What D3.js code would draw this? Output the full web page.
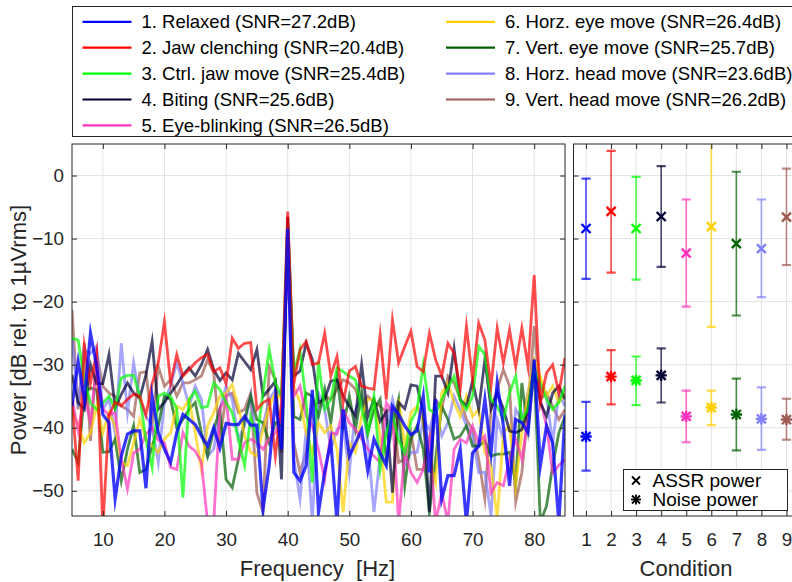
<!DOCTYPE html>
<html><head><meta charset="utf-8">
<script src="https://cdn.jsdelivr.net/npm/d3@7"></script>
<style>
html,body{margin:0;padding:0;background:#fff;}
svg{display:block;font-family:"Liberation Sans",Arial,Helvetica,sans-serif;}
</style></head>
<body>
<svg id="chart" width="792" height="582"></svg>
<script>
// ---------- DATA ----------
const freqs = [5,6,7,8,9,10,11,12,13,14,15,16,17,18,19,20,21,22,23,24,25,26,27,28,29,30,31,32,33,34,35,36,37,38,39,40,41,42,43,44,45,46,47,48,49,50,51,52,53,54,55,56,57,58,59,60,61,62,63,64,65,66,67,68,69,70,71,72,73,74,75,76,77,78,79,80,81,82,83,84,85];

const conditionNames = ["1. Relaxed (SNR=27.2dB)","2. Jaw clenching (SNR=20.4dB)","3. Ctrl. jaw move (SNR=25.4dB)","4. Biting (SNR=25.6dB)","5. Eye-blinking (SNR=26.5dB)","6. Horz. eye move (SNR=26.4dB)","7. Vert. eye move (SNR=25.7dB)","8. Horz. head move (SNR=23.6dB)","9. Vert. head move (SNR=26.2dB)"];
const conditionColors = ["#0000ff","#ff0000","#00ff00","#000033","#ff33bb","#ffd000","#006000","#8080ff","#9e5a50"];

const spec1 = [-36.6,-29.5,-35.5,-25,-30.3,-37.9,-39.2,-51.3,-44.5,-41,-40.5,-40.5,-49.6,-35,-40.8,-43.4,-45.5,-40.8,-37.9,-38.7,-39.5,-41.3,-42.9,-40,-43.2,-39.3,-39.5,-39.5,-38.2,-39.6,-39.6,-52.9,-46,-35.5,-43.4,-8.4,-47.1,-48.4,-46,-34,-53.4,-47,-42.1,-55,-37.1,-44.5,-42.4,-40.3,-46.8,-41.8,-44,-46,-36.6,-37.9,-39.7,-41.1,-40.5,-35,-47.1,-35.5,-51.3,-47.6,-47.6,-43.4,-55,-44,-42.9,-35.5,-44,-32.9,-39.7,-49.2,-38.7,-39.2,-40.8,-29.2,-46,-39.7,-42.4,-55,-37.9];
const spec2 = [-35.8,-48.4,-27,-33,-28,-56,-38,-36,-36.5,-35.5,-34.7,-35,-38,-33,-29.7,-23.2,-32.9,-28.4,-31.8,-30.8,-29.7,-28.9,-28.4,-31.1,-30.5,-33,-25.8,-27.4,-26.6,-26.5,-37.1,-36,-35.5,-44.5,-36,-5.7,-33,-27.6,-26.3,-30,-29.7,-25,-31.8,-28.7,-36,-31,-30.3,-33.4,-33.7,-33.9,-25.3,-35.5,-22.9,-29.7,-27.1,-24.7,-30.3,-31.1,-25,-29.2,-31.8,-26.6,-28.2,-33.9,-23.9,-32.4,-23.4,-26.1,-33.4,-24.2,-29.7,-24.5,-30.3,-24.2,-30.3,-15.8,-36,-31.3,-30,-34.5,-28.9];
const spec3 = [-25.8,-26.1,-32.4,-36.1,-37.1,-36.1,-35,-37,-32.1,-31.7,-31.7,-35,-42,-46.3,-35,-34.5,-35,-37,-51.1,-35.5,-34.2,-36.8,-36.6,-32.9,-34,-36,-37.6,-41.8,-46,-38.2,-41.8,-34.5,-27.6,-32.9,-35,-8.4,-31.3,-27.6,-36,-48.7,-29.5,-37.1,-35.5,-30.5,-31.1,-31.8,-32.4,-37.1,-40.8,-35,-46.6,-40.8,-38,-42,-44,-39,-37.1,-30,-37.1,-37.8,-35.5,-33.7,-31.8,-35.5,-37.1,-35,-27.1,-28.4,-35.5,-36.6,-38.7,-34.5,-31.8,-38.7,-37.1,-30.8,-32.9,-35.5,-37.1,-36,-33.4];
const spec4 = [-31.6,-36,-37.1,-30,-33,-33,-28.4,-36.8,-34.7,-32.9,-34.5,-35.3,-31.6,-26.3,-37.1,-36,-34.5,-33.2,-31.6,-30.5,-31.8,-30,-27.6,-30.8,-32.5,-31.3,-32.4,-28.2,-29.5,-30.8,-27.6,-35,-33.9,-32.6,-48.2,-6.5,-31.8,-31,-26.6,-29.2,-36,-35.5,-32.6,-32.4,-35,-36.6,-38.2,-30,-38.2,-35.5,-39,-37.5,-50.3,-36,-37,-33.2,-33.4,-37.6,-53.4,-31.8,-31.8,-34.5,-27.4,-35.5,-36.6,-32.6,-37.1,-29.2,-37,-34.5,-37,-40.5,-40.8,-40.3,-37,-30.3,-36,-38.2,-34.5,-33.4,-35.5];
const spec5 = [-35.3,-40.5,-35,-39,-30,-37,-38,-37.6,-45,-49.7,-44,-43.4,-41,-40,-42,-42.4,-46.3,-46.6,-40.8,-42.9,-43.7,-45.5,-55,-55,-37.1,-35,-45,-45,-42.4,-41.8,-42.4,-43.4,-41.8,-40.8,-38.2,-12.3,-35,-33.4,-38.2,-39.7,-43.5,-48.2,-40.8,-41,-37.1,-39.2,-40.3,-41.8,-43.4,-44.5,-45.5,-36,-37.6,-55,-43.9,-47.1,-48.7,-46.6,-41.8,-55,-50.3,-55,-43.4,-41.8,-42.4,-39.7,-42.4,-41.3,-50.3,-48.7,-49.2,-45,-41.8,-45,-38.7,-30.3,-35.5,-39.7,-47.1,-46,-45];
const spec6 = [-37.1,-39.7,-42.4,-40.8,-36.6,-40.8,-37.6,-39.7,-45.5,-46,-42.4,-38.7,-41.8,-42.9,-43.9,-41.8,-40.8,-36.6,-37.1,-35.5,-40.8,-46.6,-39.7,-37.6,-35,-34.5,-33.2,-36.6,-41.3,-43.9,-44.5,-40.3,-36.6,-34.5,-35.5,-8.1,-33.4,-36,-40.8,-43.9,-39.2,-40.8,-39.7,-43.4,-53.4,-42.4,-43.9,-38.2,-35.5,-35.5,-41.3,-51.8,-51.8,-35.5,-42.9,-37.6,-36.6,-39.2,-45,-48.7,-34.5,-32.9,-36,-38.2,-35,-38.2,-37.1,-43.9,-46,-54.5,-40.8,-39.7,-49.2,-40.8,-34.5,-29.2,-31.8,-35,-33.4,-36,-34.5];
const spec7 = [-43.4,-45.5,-34.5,-33.7,-34,-43.9,-43.8,-41.8,-48.4,-43.4,-39.7,-47.1,-46.6,-42.9,-39.7,-35,-35.5,-40,-38.7,-37.1,-36,-40.8,-44.5,-40.3,-37.1,-48.2,-49.5,-45,-38.7,-35,-38.7,-39.2,-42.4,-39.2,-39.7,-10.8,-38.2,-38.7,-34.5,-35,-38.2,-33.9,-39.2,-31.8,-39.7,-35,-40.3,-34.2,-40.8,-37.1,-35.5,-45,-39.7,-35.5,-49.2,-41.8,-39.7,-43.4,-53.4,-45,-36.6,-38.7,-41.8,-41.3,-39.7,-42.9,-42.9,-42.1,-44.5,-44.2,-44.2,-43.9,-48.7,-32.9,-40.3,-30.3,-55,-52.4,-46,-40.8,-38.2];
const spec8 = [-25.8,-36.6,-27.6,-28.2,-27.1,-37.1,-35.5,-40.8,-26.6,-37.6,-29.7,-35.5,-38.2,-39.7,-45.5,-35.8,-33.4,-29.7,-32.9,-36.6,-33.4,-35.5,-44.5,-43.4,-37.1,-33.4,-35.5,-41.8,-39.7,-35,-42.4,-39.7,-35.5,-34,-35,-11.6,-45,-51.3,-40.3,-55,-34.5,-37.1,-43.4,-40.3,-39.7,-47.1,-37.1,-35,-42.4,-53.4,-44.5,-39.7,-35.5,-39.7,-46,-43.9,-43.9,-38.7,-40.3,-37.1,-41.3,-39.2,-35,-37.1,-39.7,-41.3,-47.1,-47.1,-54,-38.7,-41.8,-47.1,-37.1,-38.7,-34.5,-29.7,-33.4,-35,-42.4,-34.5,-36.6];
const spec9 = [-21.3,-37.1,-26.6,-42.1,-28.2,-33.4,-34.5,-35,-36.6,-37.1,-38.2,-31.3,-31.1,-39.7,-30.3,-33.4,-32.4,-35,-32.9,-32.9,-32.4,-31.8,-29.2,-31.3,-41.8,-35,-34.5,-37.6,-37.1,-34.5,-50.3,-53.4,-30.3,-32.4,-43.9,-6.6,-42.4,-47.1,-43.9,-36,-36.6,-35,-35.5,-33.9,-32.4,-32.9,-33.9,-36.6,-35,-36,-36.6,-37.6,-36.6,-45.5,-45,-40.8,-46.6,-46.6,-41.8,-35.5,-37.1,-31.8,-32.9,-35.5,-38.7,-40.3,-45,-51.3,-37.1,-33.9,-30.8,-33.4,-51.8,-47.1,-37.1,-23.9,-35.5,-34.5,-36.6,-38.7,-37.1];

const conditions = [1,2,3,4,5,6,7,8,9];
const assrMean = [-8.4,-5.7,-8.4,-6.5,-12.3,-8.1,-10.8,-11.6,-6.6];
const assrLow  = [-16.4,-15.4,-16.5,-14.5,-20.8,-24.0,-22.2,-19.3,-14.2];
const assrHigh = [-0.5,3.9,-0.2,1.5,-3.8,7.8,0.6,-3.8,1.1];
const noiseMean = [-41.4,-31.9,-32.5,-31.7,-38.2,-36.8,-37.9,-38.6,-38.7];
const noiseLow  = [-46.8,-36.3,-36.4,-36.0,-42.3,-39.6,-43.6,-43.5,-41.9];
const noiseHigh = [-35.9,-27.7,-28.7,-27.4,-34.1,-34.1,-32.2,-33.6,-35.4];

const freqTicks = [10,20,30,40,50,60,70,80];
const powerTicks = [0,-10,-20,-30,-40,-50];

// ---------- LAYOUT ----------
const svg = d3.select("#chart");
const FONT = 18.5, TICKFONT = 18.8, AXC = "#262626", GRID = "#e3e3e3";
const yTop = 144, yBot = 516;
const L = {x0:72, x1:565};
const R = {x0:573.5, x1:799};

const x = d3.scaleLinear().domain([5,85]).range([L.x0, L.x1]);
const y = d3.scaleLinear().domain([-54,5]).range([yBot, yTop]);
const xc = d3.scaleLinear().domain([0.5,9.5]).range([R.x0, R.x1]);

const defs = svg.append("defs");
defs.append("clipPath").attr("id","clipL").append("rect")
  .attr("x",L.x0).attr("y",yTop).attr("width",L.x1-L.x0).attr("height",yBot-yTop);
defs.append("clipPath").attr("id","clipR").append("rect")
  .attr("x",R.x0).attr("y",yTop).attr("width",R.x1-R.x0).attr("height",yBot-yTop);

function styleAxis(g, labels){
  g.select(".domain").remove();
  g.selectAll(".tick line").attr("stroke",AXC).attr("stroke-width",1);
  g.selectAll(".tick text").attr("fill",AXC).style("font-size",TICKFONT+"px")
    .style("font-family",'"Liberation Sans",Arial,sans-serif');
  if(!labels) g.selectAll(".tick text").remove();
}

// ---------- LEFT PANEL ----------
const gL = svg.append("g");
gL.append("rect").attr("x",L.x0).attr("y",yTop).attr("width",L.x1-L.x0).attr("height",yBot-yTop).attr("fill","#fff");
gL.append("g").selectAll("line").data(freqTicks).join("line")
  .attr("x1",d=>x(d)).attr("x2",d=>x(d)).attr("y1",yTop).attr("y2",yBot)
  .attr("stroke",GRID).attr("stroke-width",1);
gL.append("g").selectAll("line").data(powerTicks).join("line")
  .attr("x1",L.x0).attr("x2",L.x1).attr("y1",d=>y(d)).attr("y2",d=>y(d))
  .attr("stroke",GRID).attr("stroke-width",1);

const spectra = [spec1,spec2,spec3,spec4,spec5,spec6,spec7,spec8,spec9];
const line = d3.line().x((d,i)=>x(freqs[i])).y(d=>y(d));
const gLines = gL.append("g").attr("clip-path","url(#clipL)");
const order = [8,7,6,5,4,3,2,1,0];
order.forEach(k=>{
  gLines.append("path").datum(spectra[k])
    .attr("d",line).attr("fill","none")
    .attr("stroke",conditionColors[k])
    .attr("stroke-width", k===0 ? 3.2 : 2.8)
    .attr("stroke-opacity", k===0 ? 0.78 : 0.7)
    .attr("stroke-linejoin","miter").attr("stroke-miterlimit",10);
});

gL.append("g").attr("transform",`translate(0,${yBot})`)
  .call(d3.axisBottom(x).tickValues(freqTicks).tickSizeInner(-5).tickSizeOuter(0).tickPadding(16.5))
  .call(g=>styleAxis(g,true));
gL.append("g").attr("transform",`translate(0,${yTop})`)
  .call(d3.axisTop(x).tickValues(freqTicks).tickSizeInner(-5).tickSizeOuter(0))
  .call(g=>styleAxis(g,false));
gL.append("g").attr("transform",`translate(${L.x0},0)`)
  .call(d3.axisLeft(y).tickValues(powerTicks).tickSizeInner(-5).tickSizeOuter(0).tickPadding(8))
  .call(g=>styleAxis(g,true));
gL.append("g").attr("transform",`translate(${L.x1},0)`)
  .call(d3.axisRight(y).tickValues(powerTicks).tickSizeInner(-5).tickSizeOuter(0))
  .call(g=>styleAxis(g,false));
gL.append("rect").attr("x",L.x0).attr("y",yTop).attr("width",L.x1-L.x0).attr("height",yBot-yTop)
  .attr("fill","none").attr("stroke",AXC).attr("stroke-width",1);

gL.append("text").attr("x",(L.x0+L.x1)/2-1).attr("y",576)
  .attr("text-anchor","middle").attr("fill",AXC).style("font-size","22px")
  .style("white-space","pre").text("Frequency  [Hz]");
gL.append("text").attr("transform",`translate(26,${(yTop+yBot)/2}) rotate(-90)`)
  .attr("text-anchor","middle").attr("fill",AXC).style("font-size","22px")
  .text("Power [dB rel. to 1\u00B5Vrms]");

// ---------- RIGHT PANEL ----------
const gR = svg.append("g");
gR.append("rect").attr("x",R.x0).attr("y",yTop).attr("width",R.x1-R.x0).attr("height",yBot-yTop).attr("fill","#fff");
gR.append("g").selectAll("line").data(conditions).join("line")
  .attr("x1",d=>xc(d)).attr("x2",d=>xc(d)).attr("y1",yTop).attr("y2",yBot)
  .attr("stroke",GRID).attr("stroke-width",1);
gR.append("g").selectAll("line").data(powerTicks).join("line")
  .attr("x1",R.x0).attr("x2",R.x1).attr("y1",d=>y(d)).attr("y2",d=>y(d))
  .attr("stroke",GRID).attr("stroke-width",1);

const gEB = gR.append("g").attr("clip-path","url(#clipR)");
function errorBars(mean, low, high, marker){
  conditions.forEach((c,i)=>{
    const g = gEB.append("g").attr("stroke",conditionColors[i]);
    const cx = xc(c), cap = 4.6;
    g.append("line").attr("x1",cx).attr("x2",cx).attr("y1",y(low[i])).attr("y2",y(high[i]))
      .attr("stroke-width",1.6).attr("stroke-opacity",0.7);
    [low[i],high[i]].forEach(v=>{
      g.append("line").attr("x1",cx-cap).attr("x2",cx+cap).attr("y1",y(v)).attr("y2",y(v))
        .attr("stroke-width",2.2).attr("stroke-opacity",0.7);
    });
    const cy = y(mean[i]), s = 4.5;
    g.append("line").attr("x1",cx-s).attr("x2",cx+s).attr("y1",cy-s).attr("y2",cy+s).attr("stroke-width",2.4);
    g.append("line").attr("x1",cx-s).attr("x2",cx+s).attr("y1",cy+s).attr("y2",cy-s).attr("stroke-width",2.4);
    if(marker==="*"){
      g.append("line").attr("x1",cx-s*1.25).attr("x2",cx+s*1.25).attr("y1",cy).attr("y2",cy).attr("stroke-width",2.4);
      g.append("line").attr("x1",cx).attr("x2",cx).attr("y1",cy-s*1.25).attr("y2",cy+s*1.25).attr("stroke-width",2.4);
    }
  });
}
errorBars(assrMean, assrLow, assrHigh, "x");
errorBars(noiseMean, noiseLow, noiseHigh, "*");

gR.append("g").attr("transform",`translate(0,${yBot})`)
  .call(d3.axisBottom(xc).tickValues(conditions).tickFormat(d3.format("d")).tickSizeInner(-5).tickSizeOuter(0).tickPadding(16.5))
  .call(g=>styleAxis(g,true));
gR.append("g").attr("transform",`translate(0,${yTop})`)
  .call(d3.axisTop(xc).tickValues(conditions).tickSizeInner(-5).tickSizeOuter(0))
  .call(g=>styleAxis(g,false));
gR.append("g").attr("transform",`translate(${R.x0},0)`)
  .call(d3.axisLeft(y).tickValues(powerTicks).tickSizeInner(-5).tickSizeOuter(0))
  .call(g=>styleAxis(g,false));
gR.append("rect").attr("x",R.x0).attr("y",yTop).attr("width",R.x1-R.x0).attr("height",yBot-yTop)
  .attr("fill","none").attr("stroke",AXC).attr("stroke-width",1);

gR.append("text").attr("x",686).attr("y",576)
  .attr("text-anchor","middle").attr("fill",AXC).style("font-size","22px")
  .text("Condition");

const mlg = gR.append("g");
mlg.append("rect").attr("x",623.5).attr("y",469.5).attr("width",164).attr("height",41)
  .attr("fill","#fff").attr("stroke",AXC).attr("stroke-width",1);
const mItems = [{label:"ASSR power", m:"x", cy:480.5},{label:"Noise power", m:"*", cy:499.5}];
mItems.forEach(it=>{
  const g = mlg.append("g").attr("stroke","#000");
  const cx = 636, s = 4, cy = it.cy;
  g.append("line").attr("x1",cx-s).attr("x2",cx+s).attr("y1",cy-s).attr("y2",cy+s).attr("stroke-width",1.8);
  g.append("line").attr("x1",cx-s).attr("x2",cx+s).attr("y1",cy+s).attr("y2",cy-s).attr("stroke-width",1.8);
  if(it.m==="*"){
    g.append("line").attr("x1",cx-s*1.25).attr("x2",cx+s*1.25).attr("y1",cy).attr("y2",cy).attr("stroke-width",1.8);
    g.append("line").attr("x1",cx).attr("x2",cx).attr("y1",cy-s*1.25).attr("y2",cy+s*1.25).attr("stroke-width",1.8);
  }
  mlg.append("text").attr("x",652.5).attr("y",cy).attr("dy","0.35em").attr("fill","#000")
    .style("font-size","19px").text(it.label);
});

// ---------- TOP LEGEND ----------
const lg = svg.append("g");
lg.append("rect").attr("x",72.5).attr("y",6.5).attr("width",740).attr("height",130)
  .attr("fill","#fff").attr("stroke",AXC).attr("stroke-width",1);
conditionNames.forEach((name,i)=>{
  const col = i<5 ? 0 : 1, row = i<5 ? i : i-5;
  const lx = col===0 ? 82.5 : 446;
  const ty = 21.8 + row*25.9;
  lg.append("line").attr("x1",lx).attr("x2",lx+49).attr("y1",ty).attr("y2",ty)
    .attr("stroke",conditionColors[i]).attr("stroke-width",2.2);
  lg.append("text").attr("x",lx+59).attr("y",ty).attr("dy","0.35em").attr("fill","#000")
    .style("font-size",FONT+"px").text(name);
});
</script>
</body></html>
